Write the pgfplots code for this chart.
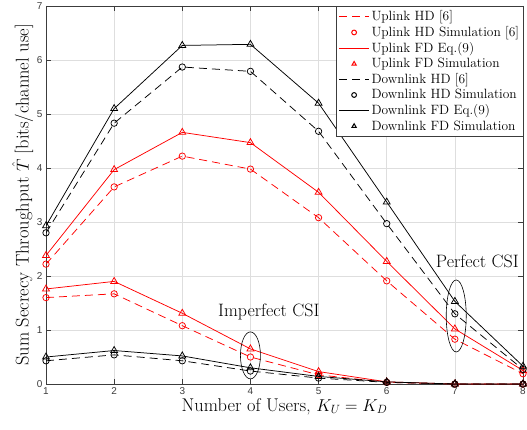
\documentclass[border=0pt]{standalone}
\usepackage{pgfplots}
\pgfplotsset{compat=1.18}
\usepackage{pgfplotstable}
\usepackage{fontspec}
\newfontfamily\tickfont{Liberation Sans}
\definecolor{axgray}{RGB}{60,60,60}
\definecolor{gridgray}{RGB}{222,222,222}

% perfect CSI
\pgfplotstableread{
x  uhd  ufd  dhd  dfd
1  2.22 2.38 2.80 2.93
2  3.65 3.97 4.83 5.10
3  4.22 4.66 5.87 6.27
4  3.98 4.47 5.79 6.29
5  3.08 3.55 4.68 5.20
6  1.91 2.27 2.97 3.37
7  0.83 1.02 1.30 1.53
8  0.19 0.25 0.27 0.33
}\perfect
% imperfect CSI
\pgfplotstableread{
x  uhd  ufd  dhd  dfd
1  1.60 1.76 0.43 0.50
2  1.67 1.90 0.54 0.62
3  1.08 1.31 0.43 0.52
4  0.50 0.65 0.24 0.30
5  0.17 0.23 0.11 0.14
6  0.03 0.04 0.03 0.04
7  0.00 0.00 0.00 0.00
8  0.00 0.00 0.00 0.00
}\imperfect

\pgfplotsset{
  linelegend/.style={legend image code/.code={\draw[##1, line width=0.9bp] (0bp,0bp) -- (30bp,0bp);}},
  marklegend/.style={legend image code/.code={\draw[mark repeat=2,mark phase=2,##1, mark size=2.4bp, mark options={line width=1bp}] plot coordinates {(0bp,0bp) (15bp,0bp) (30bp,0bp)};}},
  hd/.style={dash pattern=on 8bp off 5bp, line width=0.75bp, no marks},
  fd/.style={solid, line width=0.75bp, no marks},
  circ/.style={only marks, mark=o, mark size=3.2bp, mark options={solid, line width=0.75bp}},
  tri/.style={only marks, mark=triangle, mark size=4bp, mark options={solid, line width=0.75bp}},
}

\begin{document}
\begin{tikzpicture}
\begin{axis}[
  width=477bp, height=378bp, scale only axis,
  xmin=1, xmax=8, ymin=0, ymax=7,
  xtick={1,...,8}, ytick={0,...,7},
  grid=major, major grid style={gridgray, line width=0.5bp},
  axis line style={axgray, line width=0.8bp},
  tick style={axgray, line width=0.6bp},
  tick align=inside, tick pos=both, major tick length=5bp,
  /pgf/number format/assume math mode=true,
  tick label style={font=\fontsize{10}{12}\tickfont, text=axgray},
  xlabel={Number of Users, $K_U = K_D$},
  ylabel={Sum Secrecy Throughput $\hat{T}$ [bits/channel use]},
  label style={font=\fontsize{18.5}{21}\selectfont},
  xlabel style={yshift=3bp},
  ylabel style={yshift=-3bp},
  legend cell align=left,
  legend style={at={(1.002,1)}, anchor=north east, draw=axgray, line width=0.6bp, fill=white,
    font=\fontsize{13.5}{15}\selectfont, row sep=0.3bp, inner sep=2.5bp},
]
% perfect CSI (legend)
\addplot[red, hd, linelegend] table[x=x, y=uhd] {\perfect};
\addlegendentry{Uplink HD [6]}
\addplot[red, circ, marklegend] table[x=x, y=uhd] {\perfect};
\addlegendentry{Uplink HD Simulation [6]}
\addplot[red, fd, linelegend] table[x=x, y=ufd] {\perfect};
\addlegendentry{Uplink FD Eq.(9)}
\addplot[red, tri, marklegend] table[x=x, y=ufd] {\perfect};
\addlegendentry{Uplink FD Simulation}
\addplot[black, hd, linelegend] table[x=x, y=dhd] {\perfect};
\addlegendentry{Downlink HD [6]}
\addplot[black, circ, marklegend] table[x=x, y=dhd] {\perfect};
\addlegendentry{Downlink HD Simulation}
\addplot[black, fd, linelegend] table[x=x, y=dfd] {\perfect};
\addlegendentry{Downlink FD Eq.(9)}
\addplot[black, tri, marklegend] table[x=x, y=dfd] {\perfect};
\addlegendentry{Downlink FD Simulation}
% imperfect CSI
\addplot[red, hd, forget plot] table[x=x, y=uhd] {\imperfect};
\addplot[red, circ, forget plot] table[x=x, y=uhd] {\imperfect};
\addplot[red, fd, forget plot] table[x=x, y=ufd] {\imperfect};
\addplot[red, tri, forget plot] table[x=x, y=ufd] {\imperfect};
\addplot[black, hd, forget plot] table[x=x, y=dhd] {\imperfect};
\addplot[black, circ, forget plot] table[x=x, y=dhd] {\imperfect};
\addplot[black, fd, forget plot] table[x=x, y=dfd] {\imperfect};
\addplot[black, tri, forget plot] table[x=x, y=dfd] {\imperfect};
% annotations
\draw[black, line width=0.6bp] (axis cs:4,0.53) ellipse [x radius=10bp, y radius=23.5bp];
\draw[black, line width=0.6bp] (axis cs:7.02,1.26) ellipse [x radius=10bp, y radius=36bp];
\node[font=\fontsize{18}{21}\selectfont] at (axis cs:4.27,1.33) {Imperfect CSI};
\node[font=\fontsize{18}{21}\selectfont] at (axis cs:7.33,2.28) {Perfect CSI};
\end{axis}
\pgfresetboundingbox
\path ([shift={(-46bp,-45bp)}]current axis.south west) rectangle ([shift={(4bp,6bp)}]current axis.north east);
\end{tikzpicture}
\end{document}
